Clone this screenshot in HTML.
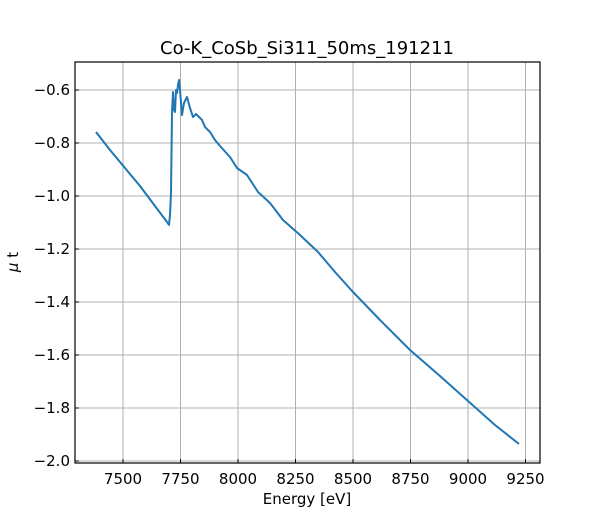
<!DOCTYPE html>
<html><head><style>body{margin:0;background:#fff}svg{display:block}text{font-family:"DejaVu Sans","Liberation Sans",sans-serif;fill:#000}</style></head><body>
<svg width="600" height="520" viewBox="0 0 600 520">
<g stroke="#b0b0b0" stroke-width="1">
<line x1="123" y1="62" x2="123" y2="463"/><line x1="180.5" y1="62" x2="180.5" y2="463"/><line x1="238" y1="62" x2="238" y2="463"/><line x1="295.5" y1="62" x2="295.5" y2="463"/><line x1="353" y1="62" x2="353" y2="463"/><line x1="410.5" y1="62" x2="410.5" y2="463"/><line x1="468" y1="62" x2="468" y2="463"/><line x1="525.5" y1="62" x2="525.5" y2="463"/>
<line x1="75" y1="461" x2="540" y2="461"/><line x1="75" y1="408" x2="540" y2="408"/><line x1="75" y1="355" x2="540" y2="355"/><line x1="75" y1="302" x2="540" y2="302"/><line x1="75" y1="249" x2="540" y2="249"/><line x1="75" y1="196" x2="540" y2="196"/><line x1="75" y1="143" x2="540" y2="143"/><line x1="75" y1="90" x2="540" y2="90"/>
</g>
<polyline fill="none" stroke="#1f77b4" stroke-width="2" stroke-linejoin="round" points="96,132 110,150 125,168 140,186 155,206 167,222 169,225 170,215 171,193 172,112 173,92 174,110 175,112 176,90 177,93 178,85 179,80 180,90 182,115 184,103 187,97 190,108 193,117 196,114 202,120 205,127 210,132 215,140 220,146 230,157 237,168 247,175 258,192 270,203 283,220 300,235 318,252 335,272 353,292 380,320 410,350 440,376 468,401 495,425 519,444"/>
<rect x="75" y="62" width="465" height="401" fill="none" stroke="#000" stroke-width="1.2"/>
<g stroke="#000" stroke-width="1">
<line x1="123" y1="463" x2="123" y2="459"/><line x1="180.5" y1="463" x2="180.5" y2="459"/><line x1="238" y1="463" x2="238" y2="459"/><line x1="295.5" y1="463" x2="295.5" y2="459"/><line x1="353" y1="463" x2="353" y2="459"/><line x1="410.5" y1="463" x2="410.5" y2="459"/><line x1="468" y1="463" x2="468" y2="459"/><line x1="525.5" y1="463" x2="525.5" y2="459"/>
<line x1="75" y1="461" x2="79" y2="461"/><line x1="75" y1="408" x2="79" y2="408"/><line x1="75" y1="355" x2="79" y2="355"/><line x1="75" y1="302" x2="79" y2="302"/><line x1="75" y1="249" x2="79" y2="249"/><line x1="75" y1="196" x2="79" y2="196"/><line x1="75" y1="143" x2="79" y2="143"/><line x1="75" y1="90" x2="79" y2="90"/>
</g>
<g font-size="15" text-anchor="middle">
<text x="123" y="484">7500</text><text x="180.5" y="484">7750</text><text x="238" y="484">8000</text><text x="295.5" y="484">8250</text><text x="353" y="484">8500</text><text x="410.5" y="484">8750</text><text x="468" y="484">9000</text><text x="525.5" y="484">9250</text>
</g>
<g font-size="15" text-anchor="end">
<text x="70" y="466">−2.0</text><text x="70" y="413">−1.8</text><text x="70" y="360">−1.6</text><text x="70" y="307">−1.4</text><text x="70" y="254">−1.2</text><text x="70" y="201">−1.0</text><text x="70" y="148">−0.8</text><text x="70" y="95">−0.6</text>
</g>
<text x="307" y="504" font-size="15" text-anchor="middle">Energy [eV]</text>
<text x="18" y="262" font-size="15" text-anchor="middle" transform="rotate(-90 18 262)"><tspan font-style="italic">μ</tspan> t</text>
<text x="307" y="54" font-size="18" text-anchor="middle">Co-K_CoSb_Si311_50ms_191211</text>
</svg>
</body></html>
